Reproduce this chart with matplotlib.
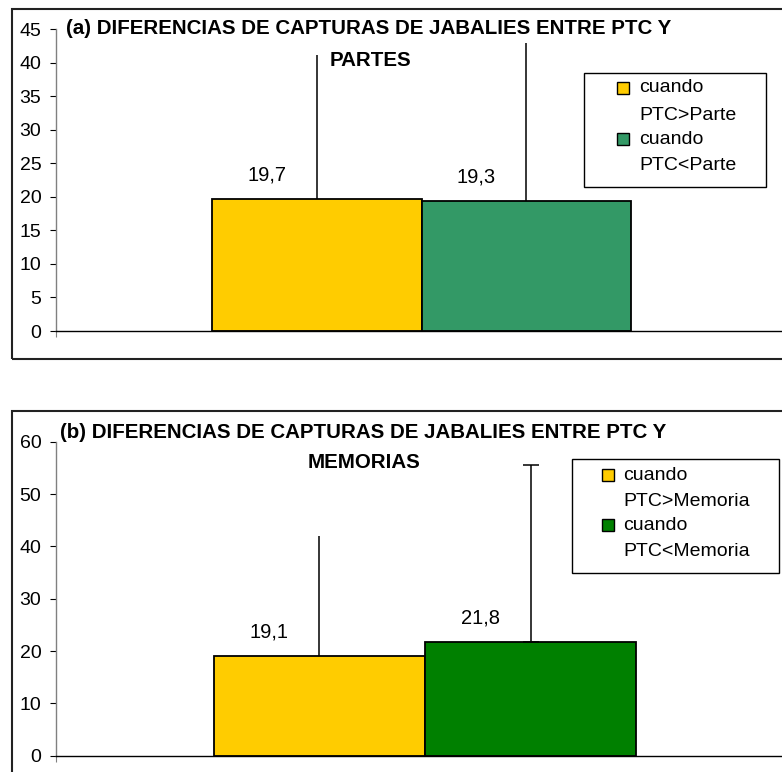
import matplotlib
matplotlib.use('Agg')
import matplotlib.pyplot as plt
from matplotlib.patches import Rectangle

plt.rcParams['font.family'] = ['Liberation Sans', 'DejaVu Sans']

W, H = 782, 772

# ---- data ----
titles_a = ["(a) DIFERENCIAS DE CAPTURAS DE JABALIES ENTRE PTC Y", "PARTES"]
titles_b = ["(b) DIFERENCIAS DE CAPTURAS DE JABALIES ENTRE PTC Y", "MEMORIAS"]
series_a = ["PTC>Parte", "PTC<Parte"]
series_b = ["PTC>Memoria", "PTC<Memoria"]
means_a = [19.7, 19.3]
errs_a = [21.4, 23.6]
means_b = [19.1, 21.8]
errs_b = [22.8, 33.8]
labels_a = ["19,7", "19,3"]
labels_b = ["19,1", "21,8"]
yticks_a = [0, 5, 10, 15, 20, 25, 30, 35, 40, 45]
yticks_b = [0, 10, 20, 30, 40, 50, 60]

colors_a = ['#FFCC00', '#339966']
colors_b = ['#FFCC00', '#008000']


def fx(px):
    return px / W


def fy(py):
    return 1 - py / H


def draw_panel(fig, ax_px, frame_px, means, errs, labels, yticks, colors,
               caps, titles, title_px, series, leg_px):
    left, right, y0, ytop = ax_px
    ax = fig.add_axes([fx(left), fy(y0), fx(right) - fx(left), fy(ytop) - fy(y0)])
    width = 0.286
    xs = [-width / 2, width / 2]
    ax.bar(xs, means, width=width, color=colors, edgecolor='black',
           linewidth=1.3, zorder=2)
    for x, m, e, c in zip(xs, means, errs, caps):
        ax.errorbar([x], [m], yerr=[[0], [e]], fmt='none', ecolor='black',
                    elinewidth=1.1, capsize=c, capthick=1.1, zorder=3)
    for x, m, lab in zip(xs, means, labels):
        ax.annotate(lab, xy=(x, m), xytext=(-50, 24), textcoords='offset pixels',
                    ha='center', va='center', fontsize=14.5)
    ax.set_xlim(-0.5, 0.5)
    ax.set_ylim(yticks[0], yticks[-1])
    ax.set_yticks(yticks)
    ax.set_yticklabels([str(t) for t in yticks], fontsize=14)
    ax.set_xticks([-0.5, 0.5])
    ax.set_xticklabels([])
    ax.tick_params(axis='y', direction='out', length=4.5, width=0.8, pad=6)
    ax.tick_params(axis='x', direction='out', length=4.5, width=0.8, color='#808080')
    for s in ('top', 'right'):
        ax.spines[s].set_visible(False)
    ax.spines['left'].set_color('#808080')
    ax.spines['left'].set_linewidth(1.0)
    ax.spines['bottom'].set_color('black')
    ax.spines['bottom'].set_linewidth(1.0)
    ax.patch.set_alpha(0)

    # outer chart frame
    fl, ft, fr, fb = frame_px
    fig.add_artist(Rectangle((fx(fl), fy(fb)), fx(fr) - fx(fl), fy(ft) - fy(fb),
                             transform=fig.transFigure, fill=False,
                             edgecolor='#222222', linewidth=1.5, zorder=0))

    # title (two lines)
    for t, (cx, cy) in zip(titles, title_px):
        fig.text(fx(cx), fy(cy), t, ha='center', va='center', fontsize=14.8,
                 fontweight='bold')

    # legend
    bl, bt, br, bb, sq_x, txt_x, rows = leg_px
    fig.add_artist(Rectangle((fx(bl), fy(bb)), fx(br) - fx(bl), fy(bt) - fy(bb),
                             transform=fig.transFigure, facecolor='white',
                             edgecolor='black', linewidth=1.0, zorder=4))
    for i, (name, col) in enumerate(zip(series, colors)):
        r1, r2 = rows[2 * i], rows[2 * i + 1]
        fig.add_artist(Rectangle((fx(sq_x), fy(r1 + 6)), fx(12), 12 / H,
                                 transform=fig.transFigure, facecolor=col,
                                 edgecolor='black', linewidth=1.0, zorder=5))
        fig.text(fx(txt_x), fy(r1), "cuando", ha='left', va='center',
                 fontsize=14, zorder=6)
        fig.text(fx(txt_x), fy(r2), name, ha='left', va='center',
                 fontsize=14, zorder=6)
    return ax


fig = plt.figure(figsize=(W / 100, H / 100), dpi=100)

draw_panel(fig, (56, 787, 331, 29), (12, 9, 830, 359), means_a, errs_a,
           labels_a, yticks_a, colors_a, [0, 0], titles_a,
           [(369, 28), (370, 60)], series_a,
           (584, 73, 766, 187, 617, 639, [88, 116, 139, 165]))

draw_panel(fig, (56, 794, 755.7, 441.7), (12, 411, 830, 800), means_b, errs_b,
           labels_b, yticks_b, colors_b, [0, 5.8], titles_b,
           [(363, 433), (364, 463)], series_b,
           (571.5, 459, 778.5, 573, 602, 623, [475, 502, 525, 552]))

fig.savefig('out.png', dpi=100)
